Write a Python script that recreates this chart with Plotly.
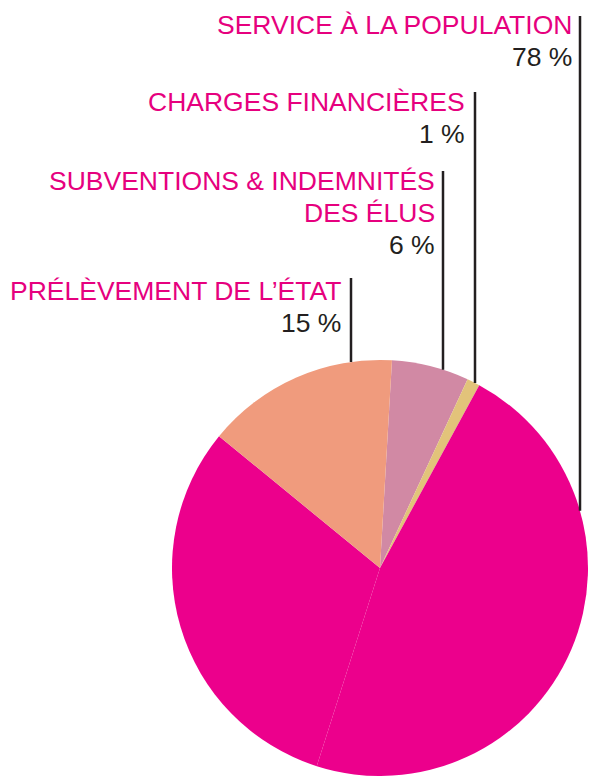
import math
import plotly.graph_objects as go

W, H = 598, 776

# ---------------- data ----------------
slice_labels = [
    "Subventions & indemnités des élus",
    "Charges financières",
    "Service à la population (1)",
    "Service à la population (2)",
    "Prélèvement de l’État",
]
slice_values = [6, 1, 47, 31, 15]
slice_colors = ["#D189A4", "#E2C37A", "#EC008C", "#EC008C", "#F09B7D"]

label_titles = [
    ["SERVICE À LA POPULATION"],
    ["CHARGES FINANCIÈRES"],
    ["SUBVENTIONS & INDEMNITÉS", "DES ÉLUS"],
    ["PRÉLÈVEMENT DE L’ÉTAT"],
]
label_values = [78, 1, 6, 15]

# ---------------- layout helpers (pixels) ----------------
cx, cy, R = 380, 568, 208
rotation_deg = 3.3

label_right = [574, 467, 437, 343]
label_first_y = [25.5, 101.7, 181, 291.3]
line_step = 32
leader_x = [580, 475, 443, 351]
leader_top = [16, 92, 171, 278]

PINK = "#E6007E"
DARK = "#231F20"
FONT = "Liberation Sans, Arial, sans-serif"
FS = 26.5


def px(x):
    return x / W


def py(y):
    return 1 - y / H


fig = go.Figure(
    go.Pie(
        labels=slice_labels,
        values=slice_values,
        sort=False,
        direction="clockwise",
        rotation=rotation_deg,
        marker=dict(colors=slice_colors, line=dict(width=0)),
        textinfo="none",
        hoverinfo="label+percent",
        showlegend=False,
        domain=dict(x=[px(cx - R), px(cx + R)], y=[py(cy + R), py(cy - R)]),
    )
)

annotations = []
shapes = []
for i, lines in enumerate(label_titles):
    y = label_first_y[i]
    for ln in lines:
        annotations.append(dict(
            x=px(label_right[i]), y=py(y), xref="paper", yref="paper",
            xanchor="right", yanchor="middle", showarrow=False, text=ln,
            font=dict(family=FONT, size=FS, color=PINK),
        ))
        y += line_step
    annotations.append(dict(
        x=px(label_right[i]), y=py(y), xref="paper", yref="paper",
        xanchor="right", yanchor="middle", showarrow=False,
        text=f"{label_values[i]} %",
        font=dict(family=FONT, size=FS, color=DARK),
    ))
    lx = leader_x[i]
    bottom = cy - math.sqrt(R * R - (lx - cx) ** 2)
    shapes.append(dict(
        type="line", xref="paper", yref="paper",
        x0=px(lx), x1=px(lx), y0=py(leader_top[i]), y1=py(bottom),
        line=dict(color=DARK, width=2.5),
    ))

fig.update_layout(
    width=W, height=H,
    margin=dict(l=0, r=0, t=0, b=0),
    paper_bgcolor="white", plot_bgcolor="white",
    annotations=annotations, shapes=shapes,
)

fig.write_html(
    "out.html",
    config={"displayModeBar": False},
    post_script="document.body.style.margin='0px';document.body.style.overflow='hidden';",
)
